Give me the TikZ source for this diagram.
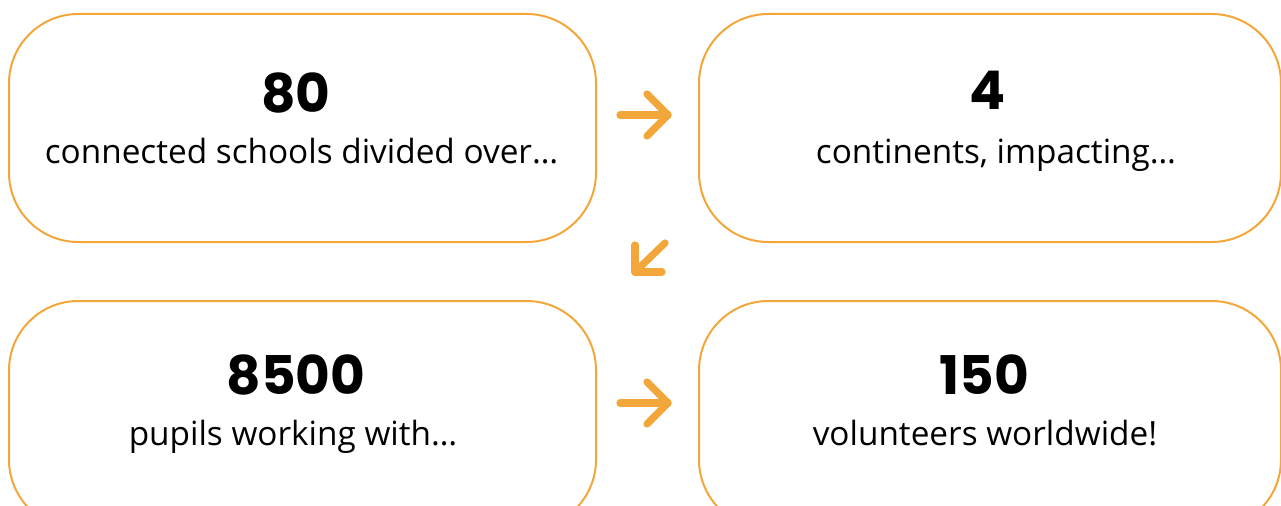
\documentclass[tikz,border=0pt]{standalone}
\usepackage{fontspec}
\setmainfont{Open Sans}
\newfontfamily\numfont{Poppins}
\definecolor{orng}{HTML}{F3A73B}
\tikzset{
  box/.style={draw=orng, line width=1.5pt, rounded corners=52pt, inner sep=0pt,
              minimum height=171pt, anchor=north west},
  num/.style={anchor=base, inner sep=0pt, font=\numfont\bfseries\fontsize{40}{46}\selectfont, text=black},
  lbl/.style={anchor=base, inner sep=0pt, font=\fontsize{25}{30}\selectfont, text=black},
  arr/.style={draw=orng, line width=5.4pt, line cap=round, line join=round}
}
\begin{document}
\begin{tikzpicture}[x=0.75pt, y=-0.75pt]
\path[use as bounding box] (0,0) rectangle (1281,506);
\clip (0,0) rectangle (1281,506);
% boxes
\node[box, minimum width=440.25pt] (b1) at (8,13) {};
\node[box, minimum width=436.5pt] (b2) at (698,13) {};
\node[box, minimum width=440.25pt] (b3) at (8,300) {};
\node[box, minimum width=436.5pt] (b4) at (698,300) {};
% texts
\node[num] (n1) at (296,113) {80};
\node[lbl] (t1) at (301.5,164) {connected schools divided over…};
\node[num] (n2) at (988,110) {4};
\node[lbl] (t2) at (996,164) {continents, impacting…};
\node[num] (n3) at (296,394) {8500};
\node[lbl] (t3) at (293,445) {pupils working with…};
\node[num] (n4) at (984.5,394) {150};
\node[lbl] (t4) at (985,445) {volunteers worldwide!};
% arrows
\coordinate (a1s) at (620,115); \coordinate (a1t) at (668,115);
\coordinate (a1u) at (647,94); \coordinate (a1d) at (647,136);
\draw[arr] (a1s) -- (a1t);
\draw[arr] (a1u) -- (a1t) -- (a1d);
\coordinate (a2s) at (665,243); \coordinate (a2t) at (635,272);
\coordinate (a2u) at (635,245); \coordinate (a2r) at (662,272);
\draw[arr] (a2s) -- (a2t);
\draw[arr] (a2u) -- (a2t) -- (a2r);
\coordinate (a3s) at (620,403); \coordinate (a3t) at (668,403);
\coordinate (a3u) at (647,382); \coordinate (a3d) at (647,424);
\draw[arr] (a3s) -- (a3t);
\draw[arr] (a3u) -- (a3t) -- (a3d);
\end{tikzpicture}
\end{document}
